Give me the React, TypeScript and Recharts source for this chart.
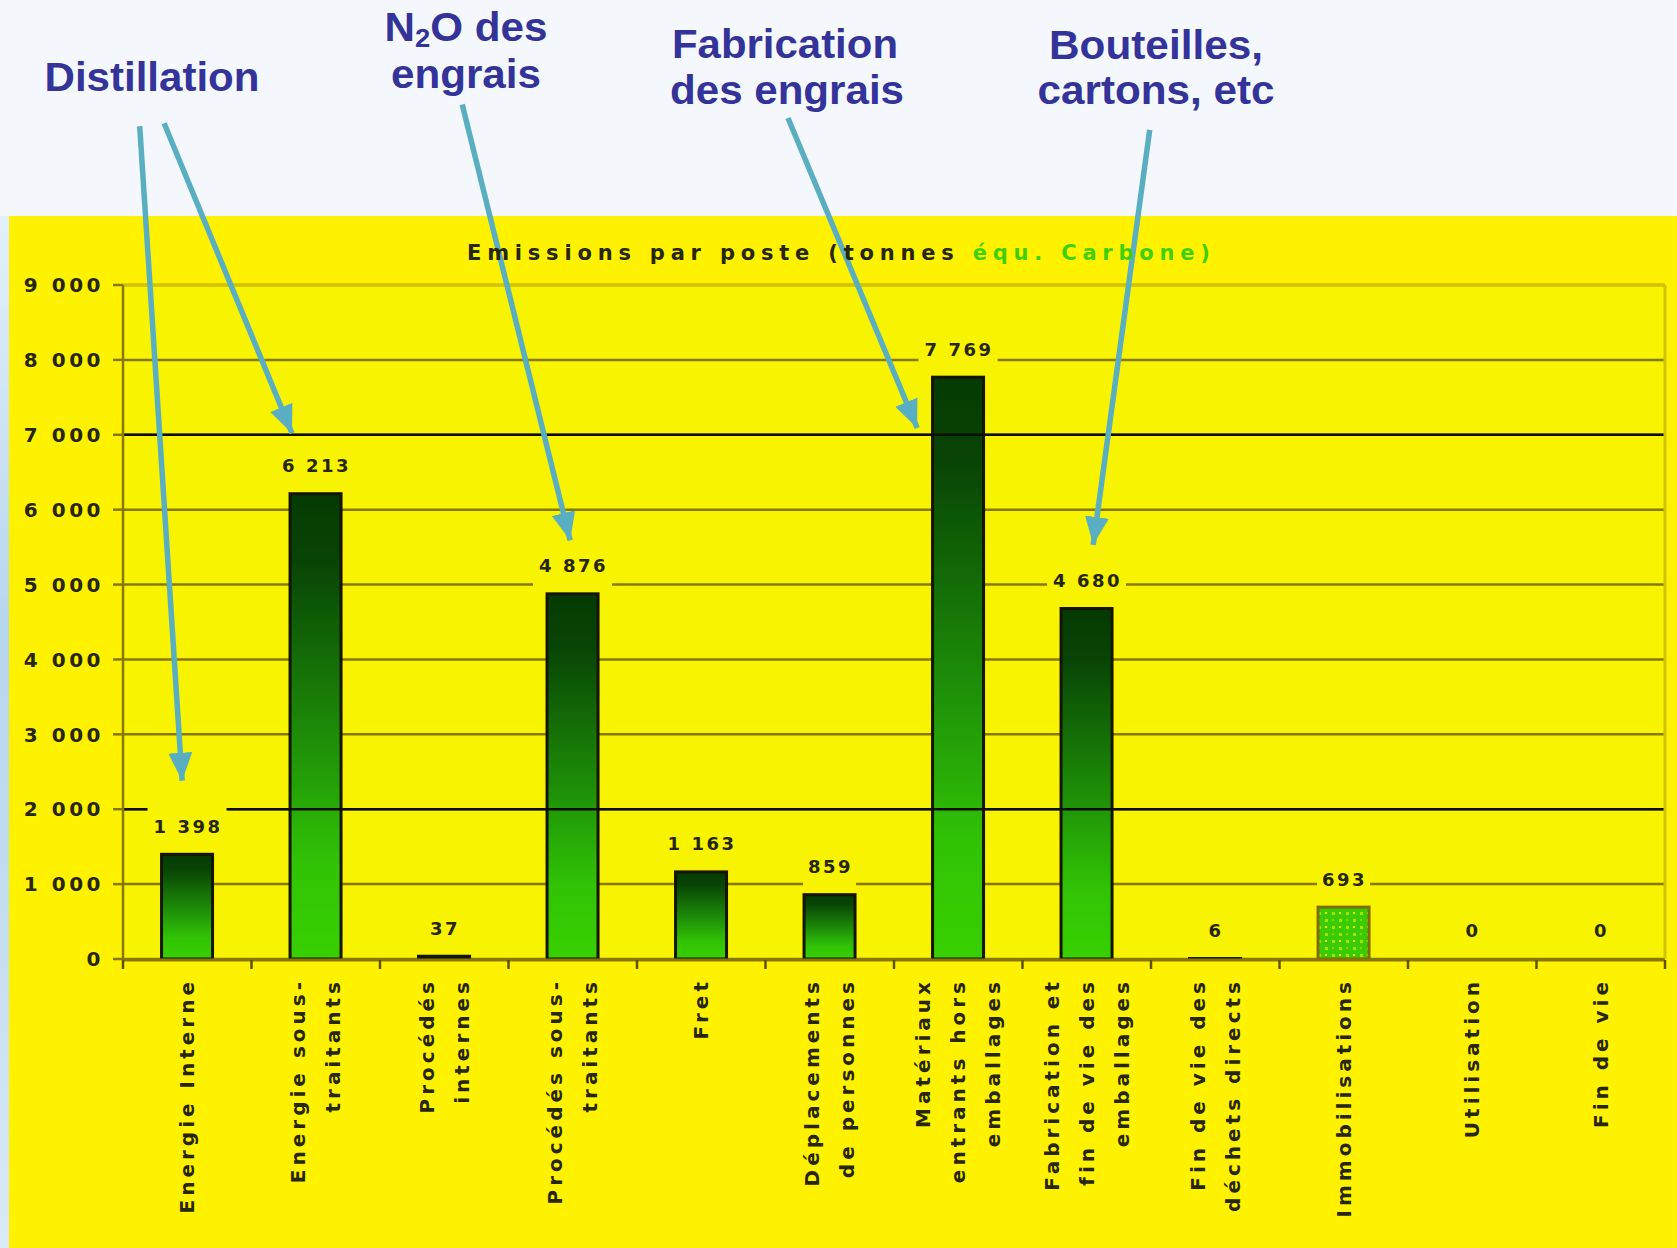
import React from "react";
import {
  BarChart,
  Bar,
  XAxis,
  YAxis,
  CartesianGrid,
  ReferenceLine,
  LabelList,
} from "recharts";

// Postes d'émission (libellés sur plusieurs lignes)
const categories = [
  "Energie Interne",
  "Energie sous-\ntraitants",
  "Procédés\ninternes",
  "Procédés sous-\ntraitants",
  "Fret",
  "Déplacements\nde personnes",
  "Matériaux\nentrants hors\nemballages",
  "Fabrication et\nfin de vie des\nemballages",
  "Fin de vie des\ndéchets directs",
  "Immobilisations",
  "Utilisation",
  "Fin de vie",
];

// tonnes équivalent carbone
const emissions = [1398, 6213, 37, 4876, 1163, 859, 7769, 4680, 6, 693, 0, 0];

const yTicks = [0, 1000, 2000, 3000, 4000, 5000, 6000, 7000, 8000, 9000];
const boundaryTicks = [0, 1, 2, 3, 4, 5, 6, 7, 8, 9, 10, 11, 12];
const darkGridValues = [2000, 7000];
const patternedPostes = ["Immobilisations"];

// flèches d'annotation, en coordonnées du graphique (x = rang de poste, y = tonnes)
const arrows = [
  { x1: 0.13, y1: 11120, x2: 0.46, y2: 2380 },
  { x1: 0.32, y1: 11160, x2: 1.315, y2: 7020 },
  { x1: 2.64, y1: 11410, x2: 3.48, y2: 5590 },
  { x1: 5.175, y1: 11230, x2: 6.18, y2: 7090 },
  { x1: 7.99, y1: 11070, x2: 7.55, y2: 5530 },
];

// rank = centre du poste sur l'axe continu 0..12
const data = categories.map((poste, i) => ({ poste, rank: i + 0.5, emissions: emissions[i] }));

const W = 1677;
const H = 1248;
const PIXEL_FONT = "'DejaVu Sans', Verdana, sans-serif";
const TITLE_FONT = "'Liberation Sans', Arial, sans-serif";
const INK = "#262600";
const OLIVE = "#867800";
const PANEL = "#fff200";
const PLOT_BG = "#f8f300";
const ARROW = "#5aaec2";

const formatFr = (v: number) => String(v).replace(/\B(?=(\d{3})+(?!\d))/g, " ");

function YTick({ x, y, payload }: any) {
  return (
    <text
      x={x}
      y={y}
      dy="0.36em"
      textAnchor="end"
      fill={INK}
      fontSize={20}
      fontWeight="bold"
      fontFamily={PIXEL_FONT}
      style={{ letterSpacing: 3.5 }}
    >
      {formatFr(payload.value)}
    </text>
  );
}

function PosteTick({ x, y, payload }: any) {
  const lines = String(payload.value).split("\n");
  const mid = (lines.length - 1) / 2;
  return (
    <g transform={`translate(${x},${y + 19}) rotate(-90)`}>
      <text
        textAnchor="end"
        fill={INK}
        fontSize={20}
        fontWeight="bold"
        fontFamily={PIXEL_FONT}
        style={{ letterSpacing: 4 }}
      >
        {lines.map((line, i) => (
          <tspan key={i} x={0} y={(i - mid) * 35} dy="0.36em">
            {line}
          </tspan>
        ))}
      </text>
    </g>
  );
}

// pas de libellé sur l'axe des limites de postes, seulement les graduations
function NoLabel() {
  return <g />;
}

function PosteBar(props: any) {
  const { x, y, width, height, payload } = props;
  if (!height || height < 0.3) return <g />;
  const patterned = patternedPostes.includes(payload.poste);
  return (
    <rect
      x={x}
      y={y}
      width={width}
      height={height}
      fill={patterned ? "url(#immoDots)" : "url(#barShade)"}
      stroke={patterned ? "#7d6c00" : "#141400"}
      strokeWidth={3}
    />
  );
}

function ValueTag(props: any) {
  const { x, y, width, value } = props;
  const text = formatFr(Number(value));
  const cx = Number(x) + Number(width) / 2;
  const cy = Number(y) - 28;
  const boxW = text.length * 13 + 14;
  return (
    <g>
      <rect x={cx - boxW / 2} y={cy - 21} width={boxW} height={42} fill={PLOT_BG} />
      <text
        x={cx + 1}
        y={cy}
        dy="0.36em"
        textAnchor="middle"
        fill={INK}
        fontSize={18}
        fontWeight="bold"
        fontFamily={PIXEL_FONT}
        style={{ letterSpacing: 2.5 }}
      >
        {text}
      </text>
    </g>
  );
}

function ArrowLine(p: any) {
  return (
    <line
      x1={p.x1}
      y1={p.y1}
      x2={p.x2}
      y2={p.y2}
      stroke={ARROW}
      strokeWidth={5.5}
      markerEnd="url(#arrowHead)"
    />
  );
}

export default function App() {
  return (
    <div
      style={{
        position: "absolute",
        left: 0,
        top: 0,
        width: W,
        height: H,
        overflow: "hidden",
        background: "#f4f8fc",
      }}
    >
      <div
        style={{
          position: "absolute",
          left: 0,
          top: 216,
          width: 9,
          bottom: 0,
          background: "linear-gradient(#e4f0f9, #b6d6ee 40%, #c8e0f2 75%, #dbeaf6)",
        }}
      />
      <div style={{ position: "absolute", left: 9, top: 216, right: 0, bottom: 0, background: PANEL }} />

      <div style={{ position: "absolute", left: 0, top: 0 }}>
        <BarChart
          width={W}
          height={H}
          data={data}
          margin={{ top: 285, right: 12, bottom: 287, left: 23 }}
          barCategoryGap="30%"
        >
          <defs>
            <linearGradient id="barShade" x1="0" y1="0" x2="0" y2="1">
              <stop offset="0%" stopColor="#053a02" />
              <stop offset="15%" stopColor="#084505" />
              <stop offset="55%" stopColor="#1f9208" />
              <stop offset="80%" stopColor="#31c305" />
              <stop offset="100%" stopColor="#38d000" />
            </linearGradient>
            <pattern id="immoDots" width="14" height="14" patternUnits="userSpaceOnUse">
              <rect width="14" height="14" fill="#3bcb02" />
              <rect x="2" y="2" width="3" height="3" fill="#a6e200" />
              <rect x="9" y="9" width="3" height="3" fill="#a6e200" />
              <rect x="9" y="2" width="2" height="2" fill="#e6f000" />
              <rect x="2" y="9" width="2" height="2" fill="#7fd800" />
            </pattern>
            <marker
              id="arrowHead"
              markerUnits="userSpaceOnUse"
              markerWidth="28"
              markerHeight="24"
              refX="28"
              refY="12"
              orient="auto"
            >
              <path d="M0,0 L28,12 L0,24 Z" fill={ARROW} />
            </marker>
          </defs>

          <CartesianGrid
            xAxisId="cat"
            vertical={false}
            stroke={OLIVE}
            strokeWidth={2.5}
            fill={PLOT_BG}
            fillOpacity={1}
          />

          <XAxis
            xAxisId="cat"
            dataKey="poste"
            height={1}
            interval={0}
            tickLine={false}
            axisLine={false}
            tickSize={0}
            tickMargin={0}
            tick={<PosteTick />}
          />
          <XAxis
            xAxisId="n"
            dataKey="rank"
            type="number"
            domain={[0, 12]}
            allowDataOverflow
            ticks={boundaryTicks}
            interval={0}
            height={1}
            tick={<NoLabel />}
            tickSize={9}
            tickLine={{ stroke: "#5e5200", strokeWidth: 2.5 }}
            axisLine={{ stroke: OLIVE, strokeWidth: 3 }}
          />
          <YAxis
            width={100}
            domain={[0, 9000]}
            ticks={yTicks}
            interval={0}
            tickSize={10}
            tickMargin={9}
            tick={<YTick />}
            tickLine={{ stroke: OLIVE, strokeWidth: 2.5 }}
            axisLine={{ stroke: OLIVE, strokeWidth: 2.5 }}
          />

          {darkGridValues.map((v) => (
            <ReferenceLine key={v} xAxisId="n" y={v} stroke="#0c0c00" strokeWidth={2.5} />
          ))}
          <ReferenceLine xAxisId="n" y={9000} stroke="#d2c400" strokeWidth={3} />
          <ReferenceLine xAxisId="n" x={12} stroke="#d2c400" strokeWidth={3} ifOverflow="visible" />

          <Bar xAxisId="cat" dataKey="emissions" isAnimationActive={false} shape={PosteBar}>
            <LabelList dataKey="emissions" content={ValueTag} />
          </Bar>

          {arrows.map((a, i) => (
            <ReferenceLine
              key={i}
              xAxisId="n"
              ifOverflow="visible"
              segment={[
                { x: a.x1, y: a.y1 },
                { x: a.x2, y: a.y2 },
              ]}
              shape={ArrowLine}
            />
          ))}
        </BarChart>
      </div>

      <svg
        width={W}
        height={H}
        style={{ position: "absolute", left: 0, top: 0, pointerEvents: "none" }}
      >
        <g fontFamily={TITLE_FONT} fontWeight="bold" fontSize={40} fill="#333399" textAnchor="middle">
          <text x={152} y={91} textLength={215} lengthAdjust="spacingAndGlyphs">
            Distillation
          </text>
          <text x={466} y={41} textLength={163} lengthAdjust="spacingAndGlyphs">
            N
            <tspan fontSize={26} dy={6}>
              2
            </tspan>
            <tspan dy={-6}>O des</tspan>
          </text>
          <text x={466} y={88} textLength={150} lengthAdjust="spacingAndGlyphs">
            engrais
          </text>
          <text x={785} y={58} textLength={226} lengthAdjust="spacingAndGlyphs">
            Fabrication
          </text>
          <text x={787} y={104} textLength={234} lengthAdjust="spacingAndGlyphs">
            des engrais
          </text>
          <text x={1156} y={59} textLength={214} lengthAdjust="spacingAndGlyphs">
            Bouteilles,
          </text>
          <text x={1156} y={104} textLength={237} lengthAdjust="spacingAndGlyphs">
            cartons, etc
          </text>
        </g>
        <text
          x={467}
          y={252}
          dy="0.36em"
          fill={INK}
          fontSize={21}
          fontWeight="bold"
          fontFamily={PIXEL_FONT}
          style={{ letterSpacing: 5.8 }}
        >
          Emissions par poste (tonnes <tspan fill="#3fd000">équ. Carbone)</tspan>
        </text>
      </svg>
    </div>
  );
}
